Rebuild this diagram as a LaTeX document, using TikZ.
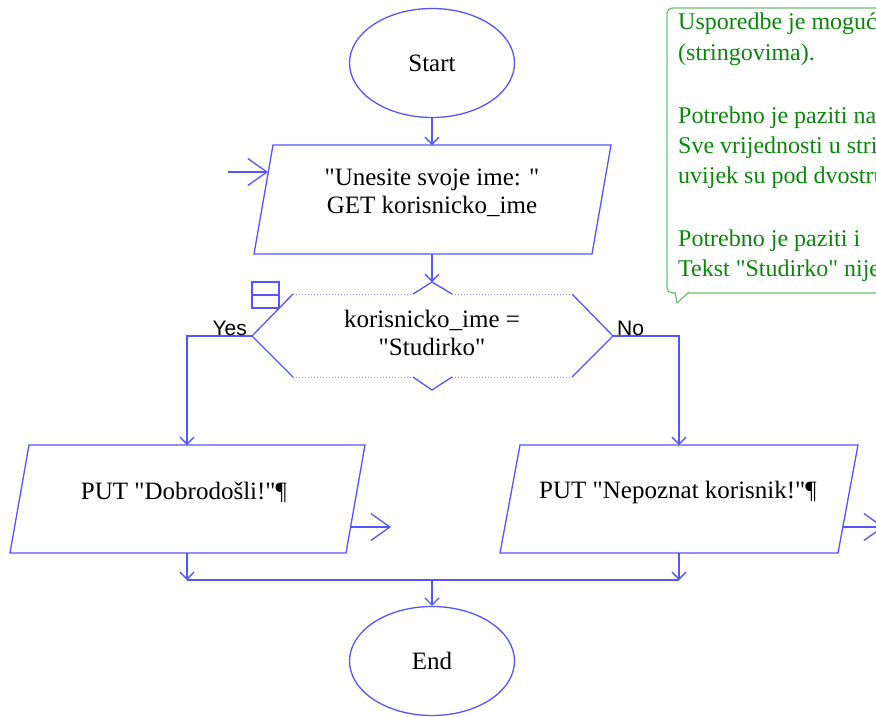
\documentclass[tikz,border=0pt]{standalone}
\usepackage{fontspec}
\setmainfont{Liberation Serif}[Ligatures=TeXOff]
\newfontfamily\labelsans{Liberation Sans}
\usetikzlibrary{shapes.geometric,arrows.meta}
\definecolor{flowblue}{RGB}{85,85,255}
\definecolor{notegreen}{RGB}{10,135,10}
\definecolor{noteframe}{RGB}{110,190,110}
\begin{document}
\begin{tikzpicture}[x=1pt,y=-1pt,
  line/.style={draw=flowblue,line width=1.3pt,line join=miter},
  dotline/.style={draw=flowblue!75,line width=1pt,dotted},
  conn/.style={flowblue,line width=1.3pt,-{Straight Barb[length=7pt,width=14pt]}},
  freearrow/.style={flowblue,line width=1.3pt,-{Straight Barb[length=19pt,width=27pt]}},
  terminal/.style={ellipse,draw=flowblue,line width=1.3pt,minimum width=165pt,minimum height=109pt,inner sep=0pt,font=\fontsize{25}{28}\selectfont},
  boxtext/.style={align=center,font=\fontsize{25}{28}\selectfont,inner sep=0pt},
  branchlabel/.style={font=\labelsans\fontsize{21}{24}\selectfont,inner sep=0pt},
  notetext/.style={anchor=base west,text=notegreen,font=\fontsize{24}{28}\selectfont,inner sep=0pt},
  frame/.style={draw=noteframe,line width=1.2pt}]
\useasboundingbox (0,0) rectangle (876,716);
\begin{scope}
\clip (0,0) rectangle (876,716);

% terminals
\node[terminal] (start) at (432,63) {Start};
\node[terminal] (end) at (432,661) {End};

% input box corners and ports
\coordinate (in-tl) at (273,145);
\coordinate (in-tr) at (611,145);
\coordinate (in-br) at (592,254);
\coordinate (in-bl) at (254,254);
\coordinate (in-top) at (432,145);
\coordinate (in-bot) at (432,254);
\coordinate (in-left) at (268,172);
\coordinate (in-src) at (228,172);
\draw[line] (in-tl) -- (in-tr) -- (in-br) -- (in-bl) -- cycle;
\node[boxtext] (input) at (432,193) {"Unesite svoje ime: "\\GET korisnicko\_ime};

% decision shape
\coordinate (d-w) at (252,336);
\coordinate (d-nw) at (293,294);
\coordinate (d-n1) at (413,294);
\coordinate (d-peak) at (432,282);
\coordinate (d-n2) at (452,294);
\coordinate (d-ne) at (572,294);
\coordinate (d-e) at (613,336);
\coordinate (d-se) at (572,377);
\coordinate (d-s2) at (452,377);
\coordinate (d-valley) at (432,390);
\coordinate (d-s1) at (413,377);
\coordinate (d-sw) at (293,377);
\draw[line] (d-nw) -- (d-w) -- (d-sw);
\draw[line] (d-ne) -- (d-e) -- (d-se);
\draw[line] (d-n1) -- (d-peak) -- (d-n2);
\draw[line] (d-s1) -- (d-valley) -- (d-s2);
\draw[dotline] (d-nw) -- (d-n1) (d-n2) -- (d-ne);
\draw[dotline] (d-sw) -- (d-s1) (d-s2) -- (d-se);
\node[boxtext] (cond) at (432,333) {korisnicko\_ime =\\"Studirko"};
% decision marker
\draw[line] (252,282) rectangle (279,308);
\draw[line] (252,295) -- (279,295);

% output boxes
\coordinate (lb-tl) at (29,445);
\coordinate (lb-tr) at (365,445);
\coordinate (lb-br) at (346,553);
\coordinate (lb-bl) at (10,553);
\draw[line] (lb-tl) -- (lb-tr) -- (lb-br) -- (lb-bl) -- cycle;
\node[boxtext] (welcome) at (184,492) {PUT "Dobrodošli!"¶};
\coordinate (rb-tl) at (520,445);
\coordinate (rb-tr) at (858,445);
\coordinate (rb-br) at (838,553);
\coordinate (rb-bl) at (500,553);
\draw[line] (rb-tl) -- (rb-tr) -- (rb-br) -- (rb-bl) -- cycle;
\node[boxtext] (unknown) at (678,492) {PUT "Nepoznat korisnik!"¶};

\coordinate (lb-in) at (187,445);
\coordinate (lb-out) at (187,553);
\coordinate (rb-in) at (679,445);
\coordinate (rb-out) at (679,553);
\coordinate (lb-exit) at (351,527);
\coordinate (lb-exit-end) at (391,527);
\coordinate (rb-exit) at (843,527);
\coordinate (rb-exit-end) at (884,527);
\coordinate (merge-l) at (187,580);
\coordinate (merge-r) at (679,580);
\coordinate (merge-c) at (432,580);

% connectors
\draw[conn] (start.south) -- (in-top);
\draw[freearrow] (in-src) -- (in-left);
\draw[conn] (in-bot) -- (d-peak);
\draw[conn] (d-w) -| (lb-in);
\draw[conn] (d-e) -| (rb-in);
\draw[conn] (lb-out) -- (merge-l);
\draw[conn] (rb-out) -- (merge-r);
\draw[line] (merge-l) -- (merge-r);
\draw[conn] (merge-c) -- (end.north);
\draw[freearrow] (lb-exit) -- (lb-exit-end);
\draw[freearrow] (rb-exit) -- (rb-exit-end);

% branch labels
\node[branchlabel,anchor=base east] (yes) at (247,335) {Yes};
\node[branchlabel,anchor=base west] (no) at (617,335) {No};

% comment balloon, running past the right edge
\draw[frame,rounded corners=6pt] (900,293) -- (667,293) -- (667,8) -- (900,8);
\filldraw[frame,fill=white] (675,292) -- (677,303) -- (689,292);
\node[notetext] (n1) at (678,29) {Usporedbe je moguće};
\node[notetext] (n2) at (678,60) {(stringovima).};
\node[notetext] (n3) at (678,123) {Potrebno je paziti na};
\node[notetext] (n4) at (678,153) {Sve vrijednosti u stringovima};
\node[notetext] (n5) at (678,183) {uvijek su pod dvostrukim};
\node[notetext] (n6) at (678,246) {Potrebno je paziti i};
\node[notetext] (n7) at (678,276) {Tekst "Studirko" nije};
\end{scope}
\end{tikzpicture}
\end{document}
